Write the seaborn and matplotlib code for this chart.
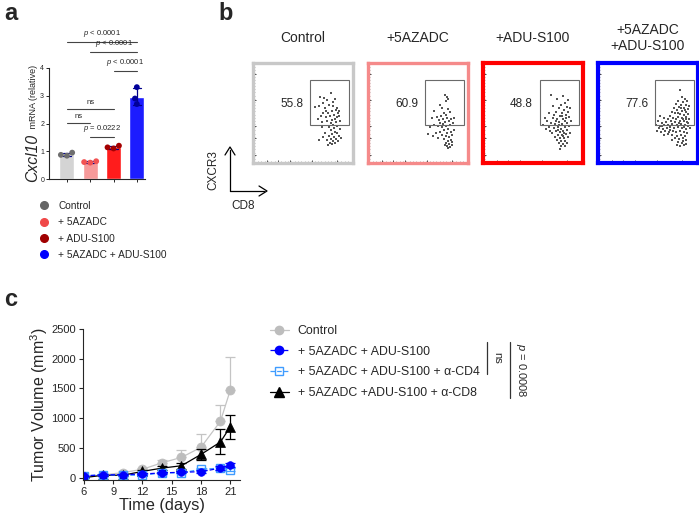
import numpy as np
import pandas as pd
import matplotlib
matplotlib.use("Agg")
import matplotlib.pyplot as plt
import seaborn as sns
from matplotlib.lines import Line2D
from matplotlib.patches import Rectangle

# ==========================
# Data
# ==========================

# a: Cxcl10 mRNA (relative), three replicates per group
groups = ["Control", "+ 5AZADC", "+ ADU-S100", "+ 5AZADC + ADU-S100"]
ctrl_cxcl10 = [0.84, 0.95, 0.87]
aza_cxcl10 = [0.59, 0.64, 0.61]
adu_cxcl10 = [1.10, 1.20, 1.14]
combo_cxcl10 = [3.31, 2.90, 2.70]
sig_pairs = [(0, 3), (1, 3), (2, 3), (0, 2), (0, 1), (1, 2)]
sig_labels = ["p < 0.0001", "p < 0.0001", "p < 0.0001", "ns", "ns", "p = 0.0222"]
sig_heights = [4.93, 4.58, 3.90, 2.52, 2.01, 1.51]

# b: CD8 vs CXCR3 flow plots (scaled units)
flow_titles = ["Control", "+5AZADC", "+ADU-S100", "+5AZADC\n+ADU-S100"]
flow_pct = ["55.8", "60.9", "48.8", "77.6"]
ctrl_cd8 = [0.67, 0.78, 0.74, 0.70, 0.82, 0.62, 0.66, 0.72, 0.76, 0.80, 0.84, 0.86, 0.85, 0.83, 0.79,
            0.75, 0.70, 0.68, 0.73, 0.77, 0.81, 0.84, 0.86, 0.82, 0.79, 0.74, 0.69, 0.65, 0.78, 0.83,
            0.87, 0.80, 0.76, 0.81, 0.84, 0.78, 0.82, 0.79, 0.84, 0.76, 0.81, 0.86, 0.88, 0.83, 0.78,
            0.74, 0.80, 0.85, 0.77, 0.82, 0.75, 0.79, 0.70, 0.66, 0.72, 0.87, 0.69, 0.73, 0.80, 0.71]
ctrl_cxcr3 = [0.66, 0.70, 0.63, 0.60, 0.64, 0.56, 0.57, 0.55, 0.58, 0.57, 0.55, 0.52, 0.50, 0.53, 0.52,
              0.50, 0.50, 0.47, 0.46, 0.47, 0.48, 0.46, 0.47, 0.44, 0.43, 0.42, 0.41, 0.44, 0.40, 0.41,
              0.42, 0.38, 0.36, 0.35, 0.37, 0.33, 0.31, 0.29, 0.30, 0.27, 0.26, 0.27, 0.25, 0.24, 0.24,
              0.23, 0.22, 0.22, 0.20, 0.20, 0.18, 0.19, 0.26, 0.23, 0.30, 0.34, 0.36, 0.52, 0.61, 0.65]
aza_cd8 = [0.77, 0.79, 0.80, 0.78, 0.72, 0.66, 0.74, 0.76, 0.80, 0.82, 0.78, 0.73, 0.69, 0.64, 0.75,
           0.79, 0.83, 0.81, 0.77, 0.72, 0.66, 0.62, 0.70, 0.74, 0.78, 0.82, 0.85, 0.80, 0.76, 0.72,
           0.68, 0.79, 0.83, 0.86, 0.74, 0.78, 0.81, 0.84, 0.70, 0.76, 0.80, 0.83, 0.78, 0.81, 0.79,
           0.82, 0.80, 0.84, 0.77, 0.65, 0.60, 0.86, 0.75, 0.71, 0.84]
aza_cxcr3 = [0.68, 0.66, 0.64, 0.62, 0.58, 0.52, 0.55, 0.50, 0.54, 0.51, 0.48, 0.47, 0.46, 0.45, 0.44,
             0.45, 0.44, 0.42, 0.41, 0.40, 0.38, 0.36, 0.37, 0.36, 0.37, 0.38, 0.40, 0.34, 0.33, 0.31,
             0.30, 0.30, 0.31, 0.33, 0.28, 0.27, 0.26, 0.28, 0.25, 0.24, 0.22, 0.23, 0.20, 0.19, 0.17,
             0.16, 0.15, 0.18, 0.18, 0.27, 0.29, 0.45, 0.39, 0.43, 0.21]
adu_cd8 = [0.68, 0.80, 0.74, 0.85, 0.82, 0.78, 0.70, 0.76, 0.84, 0.87, 0.81, 0.73, 0.66, 0.79, 0.85,
           0.83, 0.77, 0.70, 0.62, 0.74, 0.80, 0.86, 0.82, 0.76, 0.68, 0.64, 0.72, 0.79, 0.84, 0.60,
           0.66, 0.71, 0.75, 0.78, 0.82, 0.86, 0.73, 0.77, 0.80, 0.84, 0.69, 0.75, 0.79, 0.83, 0.87,
           0.72, 0.77, 0.81, 0.85, 0.74, 0.78, 0.82, 0.76, 0.80, 0.84, 0.78, 0.82, 0.77, 0.63, 0.67,
           0.88, 0.81, 0.76, 0.73, 0.79, 0.83, 0.71, 0.80, 0.75]
adu_cxcr3 = [0.68, 0.67, 0.64, 0.63, 0.60, 0.58, 0.57, 0.55, 0.56, 0.55, 0.53, 0.51, 0.50, 0.50, 0.51,
             0.48, 0.47, 0.45, 0.45, 0.44, 0.44, 0.46, 0.42, 0.41, 0.40, 0.42, 0.39, 0.39, 0.40, 0.38,
             0.36, 0.35, 0.36, 0.34, 0.36, 0.37, 0.32, 0.31, 0.32, 0.33, 0.30, 0.28, 0.28, 0.29, 0.30,
             0.26, 0.25, 0.25, 0.26, 0.23, 0.22, 0.22, 0.20, 0.19, 0.20, 0.17, 0.17, 0.14, 0.34, 0.32,
             0.42, 0.30, 0.38, 0.42, 0.47, 0.45, 0.48, 0.27, 0.33]
combo_cd8 = [0.82, 0.84, 0.87, 0.80, 0.85, 0.89, 0.78, 0.83, 0.88, 0.91, 0.76, 0.81, 0.86, 0.90, 0.79,
             0.84, 0.88, 0.74, 0.77, 0.82, 0.86, 0.90, 0.72, 0.80, 0.84, 0.88, 0.91, 0.75, 0.78, 0.70,
             0.66, 0.62, 0.68, 0.73, 0.77, 0.82, 0.86, 0.89, 0.64, 0.60, 0.58, 0.62, 0.66, 0.70, 0.74,
             0.79, 0.83, 0.87, 0.90, 0.61, 0.65, 0.69, 0.72, 0.76, 0.80, 0.84, 0.88, 0.92, 0.59, 0.63,
             0.67, 0.71, 0.75, 0.78, 0.82, 0.86, 0.89, 0.66, 0.70, 0.74, 0.79, 0.83, 0.87, 0.77, 0.81,
             0.85, 0.88, 0.74, 0.80, 0.84, 0.86, 0.82, 0.88, 0.79, 0.85, 0.64, 0.72, 0.81, 0.85, 0.87,
             0.83, 0.80, 0.88, 0.86, 0.90]
combo_cxcr3 = [0.73, 0.66, 0.64, 0.62, 0.61, 0.62, 0.59, 0.58, 0.58, 0.57, 0.55, 0.56, 0.55, 0.54, 0.53,
               0.52, 0.51, 0.51, 0.50, 0.49, 0.48, 0.49, 0.47, 0.46, 0.45, 0.46, 0.44, 0.45, 0.44, 0.44,
               0.45, 0.47, 0.41, 0.42, 0.41, 0.42, 0.42, 0.41, 0.40, 0.42, 0.38, 0.37, 0.38, 0.38, 0.39,
               0.38, 0.39, 0.38, 0.37, 0.35, 0.34, 0.35, 0.36, 0.35, 0.36, 0.35, 0.34, 0.35, 0.32, 0.31,
               0.32, 0.31, 0.32, 0.31, 0.32, 0.31, 0.30, 0.28, 0.29, 0.28, 0.27, 0.28, 0.27, 0.25, 0.24,
               0.25, 0.23, 0.23, 0.21, 0.20, 0.18, 0.17, 0.19, 0.18, 0.22, 0.37, 0.33, 0.40, 0.44, 0.53,
               0.55, 0.50, 0.44, 0.36, 0.40]

# c: tumor volume (mean, SEM)
days = [6, 8, 10, 12, 14, 16, 18, 20, 21]
ctrl_vol = [20, 45, 85, 140, 250, 340, 510, 950, 1470]
ctrl_sem = [5, 10, 20, 30, 45, 125, 220, 280, 560]
combo_vol = [30, 45, 50, 60, 80, 90, 100, 160, 215]
combo_sem = [5, 10, 10, 10, 15, 15, 20, 30, 30]
cd4_vol = [30, 50, 40, 40, 80, 80, 140, 160, 135]
cd4_sem = [5, 10, 10, 10, 10, 10, 20, 25, 25]
cd8_vol = [0, 40, 40, 105, 160, 200, 390, 600, 855]
cd8_sem = [5, 10, 15, 30, 40, 50, 90, 210, 200]

# ==========================
# Style
# ==========================

sns.set_style("ticks")
plt.rcParams["font.family"] = ["Liberation Sans", "DejaVu Sans"]
plt.rcParams["mathtext.fontset"] = "custom"
plt.rcParams["mathtext.rm"] = "Liberation Sans"
plt.rcParams["mathtext.it"] = "Liberation Sans:italic"

W, H = 699, 518
fig = plt.figure(figsize=(W / 100, H / 100), dpi=100)


def px_axes(left, top, right, bottom):
    return fig.add_axes([left / W, 1 - bottom / H, (right - left) / W, (bottom - top) / H])


def italic_p(s):
    return s.replace("p ", r"$\mathit{p}$ ", 1) if s.startswith("p ") else s


# ==========================
# Panel a
# ==========================

ax_a = px_axes(49, 68, 145, 179)

df_a = pd.DataFrame({
    "group": np.repeat(groups, 3),
    "value": ctrl_cxcl10 + aza_cxcl10 + adu_cxcl10 + combo_cxcl10,
})

bar_colors = dict(zip(groups, ["#d4d4d4", "#f69a9a", "#ff1c1c", "#1c1cff"]))
dot_colors = dict(zip(groups, ["#6e6e6e", "#f25252", "#a40000", "#00009a"]))
legend_colors = ["#666666", "#f04848", "#a00000", "#0000ff"]

sns.barplot(
    data=df_a, x="group", y="value", hue="group", order=groups,
    palette=bar_colors, saturation=1, errorbar="sd", capsize=0.35, width=0.64,
    err_kws={"color": "#00008b", "linewidth": 0.9}, legend=False, ax=ax_a
)
sns.swarmplot(
    data=df_a, x="group", y="value", hue="group", order=groups,
    palette=dot_colors, size=4.2, legend=False, ax=ax_a
)

ax_a.set_xlim(-0.77, 3.35)
ax_a.set_ylim(0, 4)
ax_a.set_yticks([0, 1, 2, 3, 4])
ax_a.set_xticks(range(4))
ax_a.set_xticklabels([])
ax_a.set_xlabel("")
ax_a.set_ylabel("")
ax_a.tick_params(labelsize=5, length=2, width=0.7, pad=1.5)
sns.despine(ax=ax_a)
for sp in ax_a.spines.values():
    sp.set_linewidth(0.8)

for (i, j), lab, h in zip(sig_pairs, sig_labels, sig_heights):
    ax_a.plot([i, j], [h, h], color="#444444", lw=0.8, clip_on=False)
    ax_a.text((i + j) / 2, h + 0.1, italic_p(lab), ha="center", va="bottom",
              fontsize=5.5, clip_on=False)

fig.text(37 / W, 1 - 182 / H, "Cxcl10", rotation=90, rotation_mode="anchor",
         ha="left", va="baseline", fontsize=11.3, style="italic")
fig.text(36 / W, 1 - 131 / H, " mRNA (relative)", rotation=90, rotation_mode="anchor",
         ha="left", va="baseline", fontsize=6.5)

handles_a = [Line2D([], [], ls="none", marker="o", markersize=5.5, color=c) for c in legend_colors]
ax_a.legend(
    handles_a, groups, loc="upper left", bbox_to_anchor=(39 / W, 1 - 201 / H),
    bbox_transform=fig.transFigure, frameon=False, fontsize=7.3,
    handlelength=1.0, handletextpad=0.9, labelspacing=0.62,
    borderpad=0, borderaxespad=0
)

# ==========================
# Panel b
# ==========================

flow_x = [ctrl_cd8, aza_cd8, adu_cd8, combo_cd8]
flow_y = [ctrl_cxcr3, aza_cxcr3, adu_cxcr3, combo_cxcr3]
frame_colors = ["#c8c8c8", "#f58a8a", "#ff0000", "#0000ff"]
frame_widths = [2.4, 2.4, 3.0, 3.0]

for i in range(4):
    ax = px_axes(253 + 115 * i, 63, 353 + 115 * i, 163)
    sns.scatterplot(x=flow_x[i], y=flow_y[i], ax=ax, s=2, marker="s",
                    color="#555555", linewidth=0, legend=False)
    ax.add_patch(Rectangle((0.573, 0.383), 0.384, 0.45, fill=False,
                           ec="#6a6a6a", lw=0.8))
    ax.text(0.385, 0.59, flow_pct[i], ha="center", va="center", fontsize=8.5)
    ax.set_xlim(0, 1)
    ax.set_ylim(0, 1)
    ax.set_xticks([0.14, 0.25, 0.37, 0.59, 0.84])
    ax.set_yticks([0.08, 0.25, 0.37, 0.63, 0.89])
    ax.set_xticks(np.linspace(0.05, 0.95, 28), minor=True)
    ax.set_yticks(np.linspace(0.04, 0.96, 30), minor=True)
    ax.set_xticklabels([])
    ax.set_yticklabels([])
    ax.tick_params(which="major", direction="in", length=2.5, width=0.7,
                   color="#444444", pad=0)
    ax.tick_params(which="minor", direction="in", length=1.2, width=0.4,
                   color="#777777")
    for sp in ax.spines.values():
        sp.set_color(frame_colors[i])
        sp.set_linewidth(frame_widths[i])
    ax.text(0.5, 1.25, flow_titles[i], transform=ax.transAxes, ha="center",
            va="center", fontsize=10, linespacing=1.15)

fig.add_artist(Line2D([230 / W, 230 / W], [1 - 191 / H, 1 - 150 / H],
                      color="black", lw=0.9))
fig.add_artist(Line2D([230 / W, 264 / W], [1 - 191 / H, 1 - 191 / H],
                      color="black", lw=0.9))
fig.add_artist(Line2D([225 / W, 230 / W, 235 / W],
                      [1 - 155 / H, 1 - 147 / H, 1 - 155 / H], color="black", lw=0.9))
fig.add_artist(Line2D([259 / W, 267 / W, 259 / W],
                      [1 - 186 / H, 1 - 191 / H, 1 - 196 / H], color="black", lw=0.9))
fig.text(213 / W, 1 - 170 / H, "CXCR3", rotation=90, ha="center", va="center", fontsize=8.5)
fig.text(243 / W, 1 - 206 / H, "CD8", ha="center", va="center", fontsize=8.5)

# ==========================
# Panel c
# ==========================

ax_c = px_axes(83, 329, 240, 480)

series = [
    (ctrl_vol, ctrl_sem, "#bdbdbd", "#c4c4c4", "o", 6.5, "-", True),
    (cd8_vol, cd8_sem, "black", "black", "^", 7.0, "-", False),
    (cd4_vol, cd4_sem, "#3f9cff", "#3f9cff", "s", 6.0, "--", False),
    (combo_vol, combo_sem, "#0000ff", "#0000ff", "o", 5.5, "--", False),
]

for vol, sem, mcol, lcol, mk, ms, ls, upper_only in series:
    yerr = [np.zeros(len(sem)), sem] if upper_only else sem
    ax_c.errorbar(days, vol, yerr=yerr, fmt="none", ecolor=lcol,
                  elinewidth=0.9, capsize=3.5, capthick=0.9)
    open_marker = mk == "s"
    sns.lineplot(
        x=days, y=vol, ax=ax_c, color=lcol, linestyle=ls, linewidth=0.9,
        marker=mk, markersize=ms,
        markerfacecolor="none" if open_marker else mcol,
        markeredgecolor=mcol, markeredgewidth=1.0 if open_marker else 0.5
    )

ax_c.set_xlim(5.9, 22)
ax_c.set_ylim(-40, 2500)
ax_c.set_xticks([6, 9, 12, 15, 18, 21])
ax_c.set_yticks([0, 500, 1000, 1500, 2000, 2500])
ax_c.tick_params(labelsize=8, length=3, width=0.8, pad=2)
ax_c.set_xlabel("Time (days)", fontsize=11.8, labelpad=1)
ax_c.set_ylabel("Tumor Volume (mm$^3$)", fontsize=11.5, labelpad=1)
sns.despine(ax=ax_c)
for sp in ax_c.spines.values():
    sp.set_linewidth(0.8)

handles_c = [
    Line2D([], [], color="#c4c4c4", marker="o", markersize=6, markerfacecolor="#bdbdbd",
           markeredgecolor="#bdbdbd", lw=0.9),
    Line2D([], [], color="#0000ff", marker="o", markersize=6, ls="--", lw=0.9),
    Line2D([], [], color="#3f9cff", marker="s", markersize=6, ls="--", lw=0.9,
           markerfacecolor="none"),
    Line2D([], [], color="black", marker="^", markersize=7, lw=0.9),
]
labels_c = ["Control", "+ 5AZADC + ADU-S100", "+ 5AZADC + ADU-S100 + \u03b1-CD4",
            "+ 5AZADC +ADU-S100 + \u03b1-CD8"]
ax_c.legend(
    handles_c, labels_c, loc="upper left", bbox_to_anchor=(270 / W, 1 - 325 / H),
    bbox_transform=fig.transFigure, frameon=False, fontsize=8.9,
    handlelength=1.5, handletextpad=0.75, labelspacing=0.7,
    borderpad=0, borderaxespad=0
)

fig.add_artist(Line2D([487 / W, 487 / W], [1 - 342 / H, 1 - 374 / H], color="#333333", lw=0.9))
fig.add_artist(Line2D([510 / W, 510 / W], [1 - 342 / H, 1 - 398 / H], color="#333333", lw=0.9))
fig.text(497 / W, 1 - 358 / H, "ns", rotation=-90, ha="center", va="center", fontsize=8)
fig.text(521 / W, 1 - 370 / H, r"$\mathit{p}$ = 0.0008", rotation=-90,
         ha="center", va="center", fontsize=8)

# ==========================
# Panel letters
# ==========================

for lab, x, y in [("a", 4, 14), ("b", 218, 14), ("c", 4, 300)]:
    fig.text(x / W, 1 - y / H, lab, fontsize=17, fontweight="bold", ha="left", va="center")

fig.savefig("out.png", dpi=100)
